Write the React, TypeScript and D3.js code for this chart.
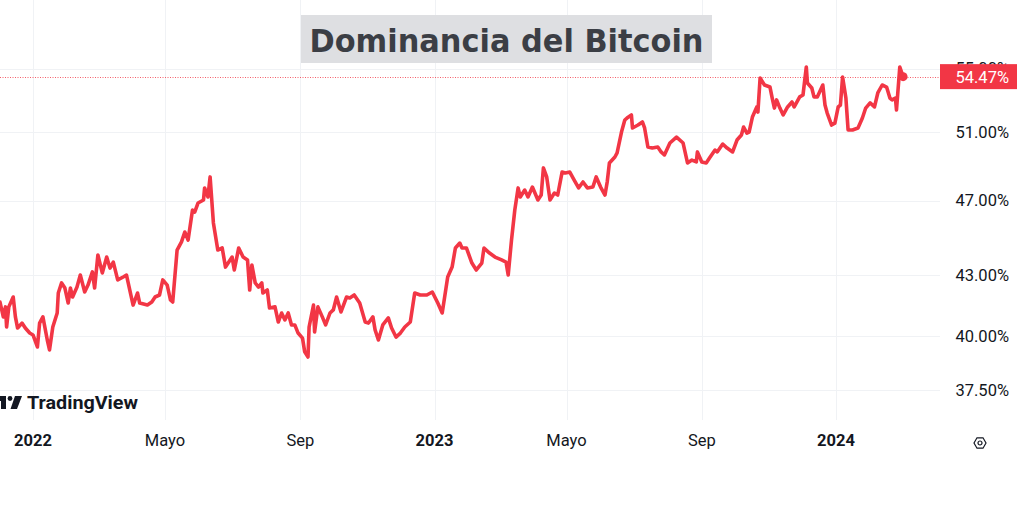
import React from "react";
import * as d3 from "d3";

const dates: string[] = [
  "2021-12-02","2021-12-05","2021-12-07","2021-12-08","2021-12-10","2021-12-14","2021-12-16","2021-12-18","2021-12-22","2021-12-25","2021-12-29",
  "2022-01-01","2022-01-05","2022-01-07","2022-01-10","2022-01-14","2022-01-16","2022-01-19","2022-01-23","2022-01-24","2022-01-27","2022-01-30",
  "2022-02-02","2022-02-04","2022-02-06","2022-02-10","2022-02-13","2022-02-17","2022-02-20","2022-02-24","2022-02-26",
  "2022-03-01","2022-03-05","2022-03-09","2022-03-12","2022-03-15","2022-03-19","2022-03-24","2022-03-27","2022-03-30",
  "2022-04-02","2022-04-06","2022-04-08","2022-04-15","2022-04-19","2022-04-22","2022-04-26","2022-04-29",
  "2022-05-03","2022-05-06","2022-05-08","2022-05-12","2022-05-16","2022-05-19","2022-05-22","2022-05-26","2022-05-28","2022-05-31",
  "2022-06-05","2022-06-06","2022-06-09","2022-06-11","2022-06-14","2022-06-18","2022-06-22","2022-06-25",
  "2022-07-01","2022-07-03","2022-07-07","2022-07-11","2022-07-15","2022-07-17","2022-07-19","2022-07-22","2022-07-25","2022-07-28","2022-07-29",
  "2022-08-02","2022-08-04","2022-08-09","2022-08-12","2022-08-15","2022-08-18","2022-08-21","2022-08-24","2022-08-27","2022-08-30",
  "2022-09-03","2022-09-05","2022-09-08","2022-09-09","2022-09-13","2022-09-14","2022-09-17","2022-09-21","2022-09-24","2022-09-28",
  "2022-10-01","2022-10-04","2022-10-08","2022-10-13","2022-10-16","2022-10-20","2022-10-25","2022-10-30",
  "2022-11-02","2022-11-06","2022-11-08","2022-11-11","2022-11-15","2022-11-20","2022-11-23","2022-11-27",
  "2022-12-01","2022-12-05","2022-12-10","2022-12-14","2022-12-19","2022-12-25","2022-12-30",
  "2023-01-04","2023-01-08","2023-01-13","2023-01-17","2023-01-20","2023-01-24","2023-01-26","2023-01-30",
  "2023-02-04","2023-02-08","2023-02-13","2023-02-15","2023-02-20","2023-02-25",
  "2023-03-03","2023-03-07","2023-03-09","2023-03-12","2023-03-15","2023-03-18","2023-03-20","2023-03-24","2023-03-27","2023-03-31",
  "2023-04-05","2023-04-08","2023-04-10","2023-04-13","2023-04-16","2023-04-20","2023-04-23","2023-04-27","2023-04-30",
  "2023-05-04","2023-05-08","2023-05-12","2023-05-16","2023-05-20","2023-05-25","2023-05-28",
  "2023-06-01","2023-06-05","2023-06-07","2023-06-09","2023-06-14","2023-06-16","2023-06-20","2023-06-23","2023-06-25","2023-06-29","2023-06-30",
  "2023-07-05","2023-07-09","2023-07-11","2023-07-14","2023-07-18","2023-07-23","2023-07-26","2023-07-29",
  "2023-08-03","2023-08-09","2023-08-14","2023-08-15","2023-08-19","2023-08-23","2023-08-27","2023-08-28",
  "2023-09-01","2023-09-05","2023-09-08","2023-09-13","2023-09-15","2023-09-20","2023-09-24","2023-09-29",
  "2023-10-03","2023-10-07","2023-10-09","2023-10-12","2023-10-14","2023-10-17","2023-10-21","2023-10-22","2023-10-24","2023-10-28",
  "2023-11-02","2023-11-04","2023-11-06","2023-11-08","2023-11-11","2023-11-14","2023-11-18","2023-11-22","2023-11-24","2023-11-29",
  "2023-12-02","2023-12-05","2023-12-06","2023-12-10","2023-12-12","2023-12-15","2023-12-20","2023-12-22","2023-12-24","2023-12-28","2023-12-31",
  "2024-01-03","2024-01-05","2024-01-07","2024-01-10","2024-01-12","2024-01-16","2024-01-21","2024-01-25","2024-01-28",
  "2024-02-01","2024-02-05","2024-02-08","2024-02-12","2024-02-16","2024-02-19","2024-02-21","2024-02-24","2024-02-25","2024-02-28",
  "2024-03-02",
];

const dominance: number[] = [
  41.65,40.92,41.41,40.43,41.41,41.90,40.92,40.38,40.62,40.38,40.14,
  40.05,39.48,40.62,40.92,39.81,39.34,40.43,41.11,42.10,42.61,42.35,
  41.60,42.35,41.90,42.40,43.01,42.15,42.50,43.17,42.35,
  44.05,43.12,43.94,43.37,43.68,42.76,42.91,43.01,42.25,
  41.50,42.10,41.60,41.50,41.65,41.90,42.00,42.76,
  42.50,41.75,41.65,44.31,44.74,45.27,44.84,46.47,46.36,46.86,
  47.03,47.71,47.20,48.34,45.76,44.31,44.42,43.42,
  43.94,43.27,44.42,43.94,43.79,42.25,43.53,42.61,42.40,42.61,42.10,
  42.25,41.36,41.41,40.67,41.11,40.77,41.11,40.53,40.53,40.14,
  39.90,39.25,39.01,40.43,41.50,40.19,41.41,40.92,40.53,41.11,
  41.26,41.90,41.16,41.90,41.85,42.00,41.60,40.67,
  40.62,40.92,40.29,39.81,40.53,40.87,40.38,39.95,
  40.14,40.43,40.67,42.10,42.00,42.00,42.15,
  41.60,41.11,42.91,43.42,44.42,44.68,44.42,44.42,
  43.63,43.27,43.63,44.42,44.15,43.94,
  43.79,43.68,43.01,44.84,46.47,47.71,47.20,47.59,47.20,47.76,
  47.03,47.31,48.86,48.34,47.03,47.42,47.31,48.62,48.57,
  48.62,48.16,47.71,48.05,47.71,47.76,48.34,
  47.76,47.31,48.05,49.15,49.50,49.74,50.99,51.73,51.85,52.04,51.24,
  51.42,51.61,51.24,50.09,50.03,50.09,49.80,49.62,
  50.33,50.69,50.39,50.33,49.15,49.32,49.21,49.80,
  49.21,49.15,49.44,49.91,49.80,50.27,50.03,49.80,
  50.51,50.81,51.30,50.93,50.99,51.91,52.54,52.22,54.38,53.93,
  53.80,53.10,52.47,52.98,52.47,52.04,52.54,52.85,52.54,53.17,
  53.29,55.10,54.06,53.74,53.17,53.17,53.93,52.66,52.16,51.42,51.54,
  52.54,52.66,54.45,53.10,51.12,51.12,51.24,51.85,52.47,
  52.79,52.54,53.42,53.93,53.80,53.10,52.98,53.10,52.35,55.10,
  54.47,
];

const yTicks: number[] = [37.5, 40, 43, 47, 51, 55];
const xTickDates: string[] = ["2022-01-01","2022-05-01","2022-09-01","2023-01-01","2023-05-01","2023-09-01","2024-01-01"];
const xTickLabels: string[] = ["2022","Mayo","Sep","2023","Mayo","Sep","2024"];
const xTickBold: boolean[] = [true,false,false,true,false,false,true];
const titleText = "Dominancia del Bitcoin";

const W = 1024;
const H = 512;
const PLOT_RIGHT = 940;
const PLOT_BOTTOM = 420;
const RED = "#f23645";
const TEXT = "#131722";
const GRID = "#f0f2f5";
const FONT = "Roboto, 'Noto Sans', sans-serif";

export default function App() {
  const parse = d3.utcParse("%Y-%m-%d");
  const data = dates.map((d, i) => ({ date: parse(d) as Date, value: dominance[i] }));

  const x = d3
    .scaleUtc()
    .domain([parse("2022-01-01") as Date, parse("2024-01-01") as Date])
    .range([33, 836]);
  const y = d3.scaleLog().domain([37.5, 55]).range([390.2, 68.5]);

  const line = d3
    .line<{ date: Date; value: number }>()
    .x((d) => x(d.date))
    .y((d) => y(d.value));

  const last = data[data.length - 1];
  const lastY = y(last.value);

  return (
    <svg
      width={W}
      height={H}
      viewBox={`0 0 ${W} ${H}`}
      style={{ position: "absolute", left: 0, top: 0, background: "#ffffff" }}
    >
      <rect x={0} y={0} width={W} height={H} fill="#ffffff" />
      {/* grid */}
      <g>
        {xTickDates.map((d, i) => {
          const xx = Math.round(x(parse(d) as Date)) + 0.5;
          return <line key={"vg" + i} x1={xx} x2={xx} y1={0} y2={PLOT_BOTTOM} stroke={GRID} strokeWidth={1} />;
        })}
        {yTicks.map((t, i) => {
          const yy = Math.round(y(t)) + 0.5;
          return <line key={"hg" + i} x1={0} x2={PLOT_RIGHT} y1={yy} y2={yy} stroke={GRID} strokeWidth={1} />;
        })}
      </g>

      {/* title */}
      <rect x={301} y={15} width={411} height={48} fill="#dedfe2" />
      <text
        x={506.5}
        y={52}
        textAnchor="middle"
        fontFamily="'DejaVu Sans', Verdana, sans-serif"
        fontWeight={700}
        fontSize={32}
        fill="#3b3e45"
        textLength={394}
        lengthAdjust="spacingAndGlyphs"
      >
        {titleText}
      </text>

      {/* price line */}
      <line
        x1={0}
        x2={PLOT_RIGHT}
        y1={Math.round(lastY) + 0.5}
        y2={Math.round(lastY) + 0.5}
        stroke={RED}
        strokeWidth={1}
        strokeDasharray="1 1.5"
        strokeOpacity={0.8}
      />

      {/* series */}
      <path
        d={line(data) || ""}
        fill="none"
        stroke={RED}
        strokeWidth={3.6}
        strokeLinejoin="round"
        strokeLinecap="round"
      />
      <circle cx={x(last.date)} cy={lastY} r={4.5} fill={RED} />

      {/* y axis labels */}
      {yTicks.map((t, i) => (
        <text
          key={"yl" + i}
          x={1009}
          y={y(t)}
          dy="0.36em"
          textAnchor="end"
          fontFamily={FONT}
          fontSize={16.5}
          fill={TEXT}
        >
          {t.toFixed(2) + "%"}
        </text>
      ))}

      {/* last value label */}
      <rect x={940} y={lastY - 12.5} width={77} height={25} fill={RED} />
      <text
        x={1009}
        y={lastY}
        dy="0.36em"
        textAnchor="end"
        fontFamily={FONT}
        fontSize={16.5}
        fill="#ffffff"
      >
        {last.value.toFixed(2) + "%"}
      </text>

      {/* x axis labels */}
      {xTickDates.map((d, i) => (
        <text
          key={"xl" + i}
          x={x(parse(d) as Date)}
          y={446}
          textAnchor="middle"
          fontFamily={FONT}
          fontWeight={xTickBold[i] ? 700 : 400}
          fontSize={16.5}
          fill={TEXT}
        >
          {xTickLabels[i]}
        </text>
      ))}

      {/* settings icon */}
      <g transform="translate(980,443)" fill="none" stroke={TEXT} strokeWidth={1.2}>
        <path d="M-6,0 L-3,-5.2 L3,-5.2 L6,0 L3,5.2 L-3,5.2 Z" />
        <circle r={2} />
      </g>

      {/* TradingView watermark */}
      <g fill={TEXT}>
        <path d="M-4,396 H6 V409 H1 V401 H-4 Z" />
        <circle cx={10} cy={398.5} r={2.4} />
        <path d="M15,396 H22 L17,409 H10.5 Z" />
        <text
          x={27}
          y={409}
          fontFamily={FONT}
          fontWeight={700}
          fontSize={19}
          textLength={111}
          lengthAdjust="spacingAndGlyphs"
        >
          TradingView
        </text>
      </g>
    </svg>
  );
}
